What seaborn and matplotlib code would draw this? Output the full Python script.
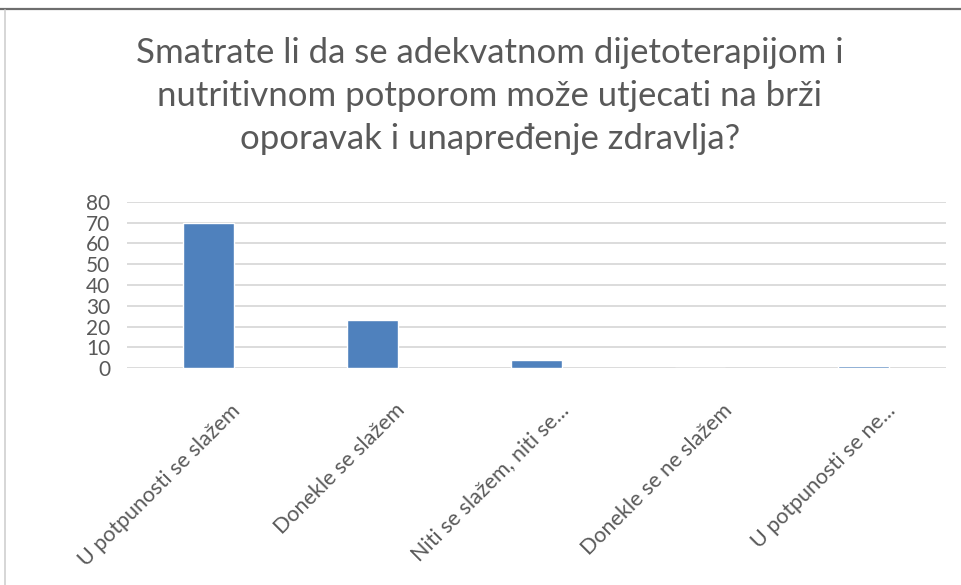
import matplotlib
matplotlib.use("Agg")
import matplotlib.pyplot as plt
import matplotlib.transforms as mtransforms
from matplotlib.lines import Line2D
import pandas as pd
import seaborn as sns

# -----------------------------
# Podaci
# -----------------------------
categories = [
    "U potpunosti se slažem",
    "Donekle se slažem",
    "Niti se slažem, niti se...",
    "Donekle se ne slažem",
    "U potpunosti se ne...",
]
values = [70, 23, 4, 0, 1]
y_ticks = [0, 10, 20, 30, 40, 50, 60, 70, 80]
title = ("Smatrate li da se adekvatnom dijetoterapijom i\n"
         "nutritivnom potporom može utjecati na brži\n"
         "oporavak i unapređenje zdravlja?")

BAR_COLOR = "#4F81BD"
TEXT_COLOR = "#595959"
GRID_COLOR = "#D9D9D9"

df = pd.DataFrame({"odgovor": categories, "broj": values})

sns.set_theme(style="white")
plt.rcParams["font.family"] = ["Lato", "DejaVu Sans"]

fig = plt.figure(figsize=(9.62, 5.85), dpi=100)
ax = fig.add_axes([0.1317, 0.3704, 0.8514, 0.2848])

sns.barplot(data=df, x="odgovor", y="broj", color=BAR_COLOR, width=0.31,
            saturation=1, ax=ax)

ax.set_xlim(-0.5, len(categories) - 0.5)
ax.set_ylim(0, 80)
ax.set_yticks(y_ticks)
ax.set_xlabel("")
ax.set_ylabel("")

# mreža
ax.yaxis.grid(True, color=GRID_COLOR, linewidth=1.3)
ax.set_axisbelow(True)
for s in ax.spines.values():
    s.set_visible(False)

ax.tick_params(axis="both", length=0, colors=TEXT_COLOR)
ax.tick_params(axis="y", pad=12, labelsize=15)

# rotirane oznake kategorija
offset = mtransforms.ScaledTranslation(0.29, -0.39, fig.dpi_scale_trans)
ax.set_xticks(range(len(categories)))
ax.set_xticklabels(categories, rotation=45, ha="right", va="center",
                   rotation_mode="anchor", fontsize=15.5, color=TEXT_COLOR)
ax.tick_params(axis="x", pad=0)
for lbl in ax.get_xticklabels():
    lbl.set_transform(lbl.get_transform() + offset)

# naslov
fig.text(0.509, 0.836, title, ha="center", va="center", fontsize=25,
         color=TEXT_COLOR, linespacing=1.41)

# okvir snimke zaslona
fig.add_artist(Line2D([0, 1], [1 - 8.5 / 585, 1 - 8.5 / 585],
                      transform=fig.transFigure, color="#6E6E6E", linewidth=1.6))
fig.add_artist(Line2D([4.5 / 962, 4.5 / 962], [0, 1 - 9.5 / 585],
                      transform=fig.transFigure, color="#D0D0D0", linewidth=1.2))

fig.savefig("out.png", dpi=100)
